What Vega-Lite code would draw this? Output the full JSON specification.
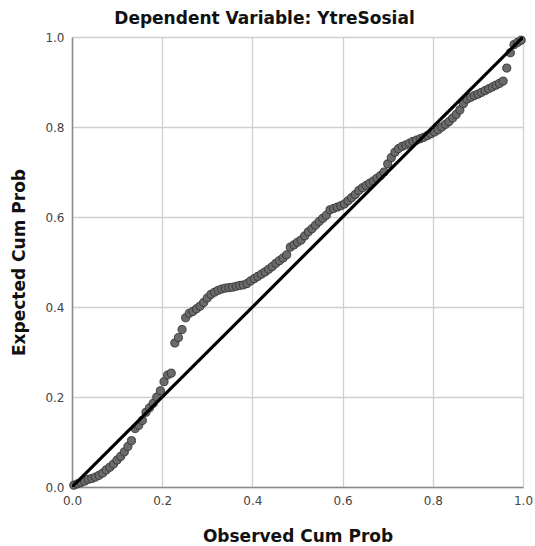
{
  "$schema": "https://vega.github.io/schema/vega-lite/v6.json",
  "autosize": {"type": "none"},
  "padding": {"left": 72, "top": 37, "right": 12, "bottom": 59},
  "width": 451,
  "height": 450,
  "background": "white",
  "title": {
    "text": "Dependent Variable: YtreSosial",
    "font": "DejaVu Sans",
    "fontSize": 17,
    "fontWeight": "bold",
    "color": "#111111",
    "anchor": "middle",
    "dx": -33,
    "offset": 3
  },
  "config": {
    "view": {"stroke": null},
    "axis": {
      "labelFont": "DejaVu Sans",
      "labelFontSize": 12,
      "labelColor": "#444444",
      "titleFont": "DejaVu Sans",
      "titleFontSize": 17,
      "titleFontWeight": "bold",
      "titleColor": "#111111",
      "gridColor": "#cfcfcf",
      "gridWidth": 1.3,
      "domainColor": "#8a8a8a",
      "domainWidth": 1.5,
      "ticks": false,
      "labelPadding": 8
    }
  },
  "datasets": {
    "ref": [{"o": 0, "e": 0}, {"o": 1, "e": 1}],
    "pts": [
      {"o": 0.004, "e": 0.004}, {"o": 0.012, "e": 0.007}, {"o": 0.020, "e": 0.010}, {"o": 0.028, "e": 0.013},
      {"o": 0.036, "e": 0.017}, {"o": 0.044, "e": 0.019}, {"o": 0.052, "e": 0.022}, {"o": 0.060, "e": 0.026},
      {"o": 0.068, "e": 0.031}, {"o": 0.076, "e": 0.038}, {"o": 0.084, "e": 0.044}, {"o": 0.092, "e": 0.051},
      {"o": 0.100, "e": 0.060}, {"o": 0.108, "e": 0.068}, {"o": 0.116, "e": 0.078}, {"o": 0.124, "e": 0.090},
      {"o": 0.132, "e": 0.103}, {"o": 0.140, "e": 0.130}, {"o": 0.148, "e": 0.137}, {"o": 0.156, "e": 0.148},
      {"o": 0.164, "e": 0.166}, {"o": 0.172, "e": 0.176}, {"o": 0.180, "e": 0.186}, {"o": 0.188, "e": 0.200},
      {"o": 0.196, "e": 0.214}, {"o": 0.204, "e": 0.234}, {"o": 0.212, "e": 0.249}, {"o": 0.220, "e": 0.253},
      {"o": 0.228, "e": 0.320}, {"o": 0.236, "e": 0.332}, {"o": 0.244, "e": 0.350}, {"o": 0.252, "e": 0.376},
      {"o": 0.260, "e": 0.386}, {"o": 0.268, "e": 0.390}, {"o": 0.276, "e": 0.396}, {"o": 0.284, "e": 0.402},
      {"o": 0.292, "e": 0.410}, {"o": 0.300, "e": 0.420}, {"o": 0.308, "e": 0.428}, {"o": 0.316, "e": 0.433},
      {"o": 0.324, "e": 0.437}, {"o": 0.332, "e": 0.440}, {"o": 0.340, "e": 0.442}, {"o": 0.348, "e": 0.443},
      {"o": 0.356, "e": 0.444}, {"o": 0.364, "e": 0.446}, {"o": 0.372, "e": 0.448}, {"o": 0.380, "e": 0.449},
      {"o": 0.388, "e": 0.452}, {"o": 0.396, "e": 0.458}, {"o": 0.404, "e": 0.463}, {"o": 0.412, "e": 0.468},
      {"o": 0.420, "e": 0.473}, {"o": 0.428, "e": 0.478}, {"o": 0.436, "e": 0.484}, {"o": 0.444, "e": 0.490},
      {"o": 0.452, "e": 0.497}, {"o": 0.460, "e": 0.503}, {"o": 0.468, "e": 0.509}, {"o": 0.476, "e": 0.516},
      {"o": 0.484, "e": 0.533}, {"o": 0.492, "e": 0.538}, {"o": 0.500, "e": 0.544}, {"o": 0.508, "e": 0.549},
      {"o": 0.516, "e": 0.558}, {"o": 0.524, "e": 0.567}, {"o": 0.532, "e": 0.574}, {"o": 0.540, "e": 0.582},
      {"o": 0.548, "e": 0.590}, {"o": 0.556, "e": 0.597}, {"o": 0.564, "e": 0.604}, {"o": 0.572, "e": 0.616},
      {"o": 0.580, "e": 0.619}, {"o": 0.588, "e": 0.622}, {"o": 0.596, "e": 0.625}, {"o": 0.604, "e": 0.629},
      {"o": 0.612, "e": 0.636}, {"o": 0.620, "e": 0.643}, {"o": 0.628, "e": 0.650}, {"o": 0.636, "e": 0.659},
      {"o": 0.644, "e": 0.665}, {"o": 0.652, "e": 0.670}, {"o": 0.660, "e": 0.675}, {"o": 0.668, "e": 0.680},
      {"o": 0.676, "e": 0.686}, {"o": 0.684, "e": 0.692}, {"o": 0.692, "e": 0.700}, {"o": 0.700, "e": 0.718},
      {"o": 0.708, "e": 0.732}, {"o": 0.716, "e": 0.744}, {"o": 0.724, "e": 0.752}, {"o": 0.732, "e": 0.757},
      {"o": 0.740, "e": 0.760}, {"o": 0.748, "e": 0.764}, {"o": 0.756, "e": 0.768}, {"o": 0.764, "e": 0.771},
      {"o": 0.772, "e": 0.774}, {"o": 0.780, "e": 0.777}, {"o": 0.788, "e": 0.781}, {"o": 0.796, "e": 0.785},
      {"o": 0.804, "e": 0.789}, {"o": 0.812, "e": 0.794}, {"o": 0.820, "e": 0.800}, {"o": 0.828, "e": 0.806},
      {"o": 0.836, "e": 0.812}, {"o": 0.844, "e": 0.820}, {"o": 0.852, "e": 0.828}, {"o": 0.860, "e": 0.838},
      {"o": 0.868, "e": 0.852}, {"o": 0.876, "e": 0.862}, {"o": 0.884, "e": 0.866}, {"o": 0.892, "e": 0.870},
      {"o": 0.900, "e": 0.873}, {"o": 0.908, "e": 0.877}, {"o": 0.916, "e": 0.881}, {"o": 0.924, "e": 0.885},
      {"o": 0.932, "e": 0.889}, {"o": 0.940, "e": 0.893}, {"o": 0.948, "e": 0.897}, {"o": 0.956, "e": 0.902},
      {"o": 0.964, "e": 0.931}, {"o": 0.972, "e": 0.965}, {"o": 0.980, "e": 0.983}, {"o": 0.988, "e": 0.988},
      {"o": 0.996, "e": 0.993}
    ]
  },
  "encoding": {
    "x": {
      "field": "o", "type": "quantitative",
      "scale": {"domain": [0, 1], "nice": false, "zero": false},
      "axis": {"title": "Observed Cum Prob", "values": [0, 0.2, 0.4, 0.6, 0.8, 1.0], "format": ".1f", "titlePadding": 22, "labelFlush": false}
    },
    "y": {
      "field": "e", "type": "quantitative",
      "scale": {"domain": [0, 1], "nice": false, "zero": false},
      "axis": {"title": "Expected Cum Prob", "values": [0, 0.2, 0.4, 0.6, 0.8, 1.0], "format": ".1f", "titlePadding": 16, "labelFlush": false}
    }
  },
  "layer": [
    {
      "data": {"name": "pts"},
      "mark": {"type": "point", "filled": true, "shape": "circle", "size": 66, "fill": "#6a6a6a", "stroke": "#333333", "strokeWidth": 0.9, "opacity": 1, "fillOpacity": 1}
    },
    {
      "data": {"name": "ref"},
      "mark": {"type": "line", "color": "#000000", "strokeWidth": 3.2, "clip": true}
    }
  ]
}
